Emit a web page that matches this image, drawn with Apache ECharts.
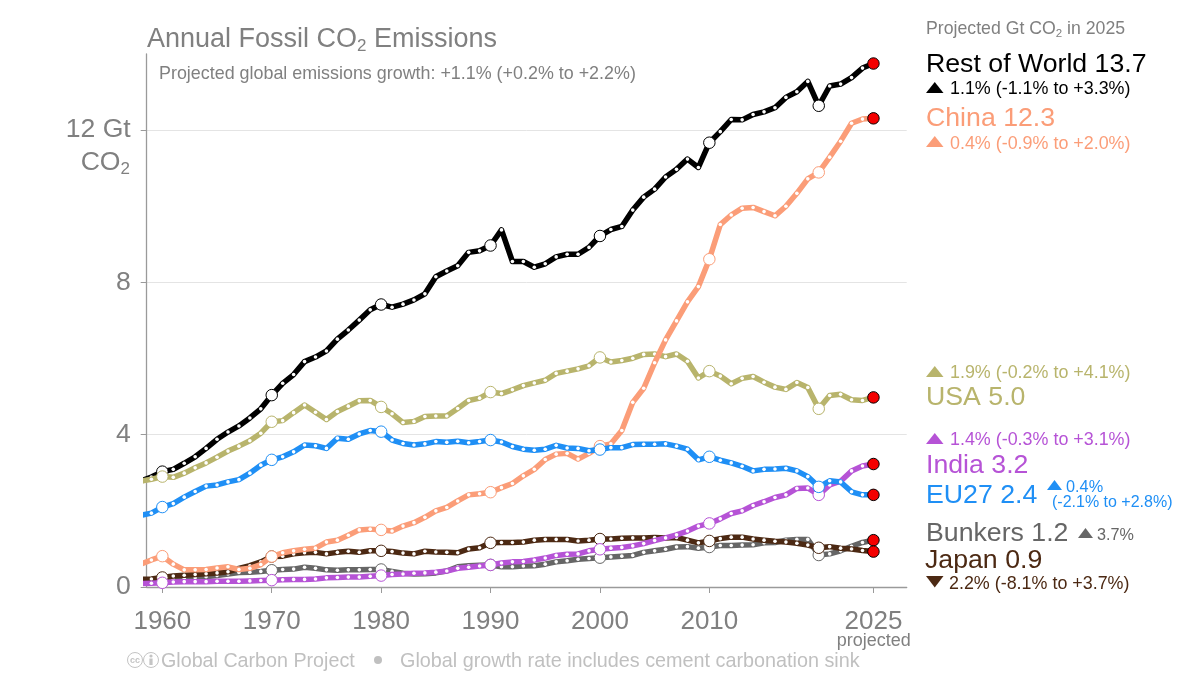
<!DOCTYPE html>
<html><head><meta charset="utf-8">
<script src="https://cdn.jsdelivr.net/npm/echarts@6/dist/echarts.min.js"></script>
<style>html,body{margin:0;padding:0;background:#fff}#c{width:1200px;height:675px}</style>
</head><body><div id="c"></div>
<script>
const firstYear = 1958;
const xTickYears = [1960,1970,1980,1990,2000,2010,2025];
const yTickValues = [0,4,8,12];
const decadeYears = [1960,1970,1980,1990,2000,2010,2020];
const restOfWorld = [2.78,2.89,
 3.03,3.09,3.25,3.42,3.64,3.88,4.07,4.23,4.44,4.68,
 5.04,5.35,5.58,5.92,6.04,6.20,6.51,6.75,7.01,7.28,
 7.42,7.35,7.43,7.54,7.70,8.15,8.30,8.44,8.79,8.83,
 8.97,9.38,8.55,8.55,8.40,8.49,8.67,8.74,8.74,8.92,
 9.22,9.39,9.47,9.90,10.24,10.45,10.77,10.97,11.24,11.02,
 11.67,11.96,12.28,12.27,12.41,12.48,12.59,12.86,13.01,13.28,
 12.64,13.16,13.21,13.38,13.63,13.75];
const china = [0.60,0.71,
 0.81,0.60,0.45,0.45,0.46,0.50,0.53,0.46,0.49,0.59,
 0.80,0.90,0.95,0.99,1.02,1.18,1.23,1.36,1.50,1.52,
 1.50,1.47,1.60,1.69,1.83,2.00,2.09,2.26,2.42,2.45,
 2.49,2.61,2.72,2.92,3.09,3.35,3.49,3.51,3.36,3.51,
 3.70,3.76,4.11,4.85,5.22,5.89,6.49,6.99,7.49,7.89,
 8.61,9.52,9.77,9.95,9.97,9.86,9.75,10.00,10.34,10.72,
 10.89,11.29,11.71,12.18,12.29,12.31];
const usa = [2.78,2.83,
 2.90,2.88,2.99,3.13,3.26,3.41,3.57,3.70,3.84,4.04,
 4.34,4.37,4.58,4.78,4.59,4.40,4.61,4.75,4.89,4.90,
 4.73,4.55,4.32,4.35,4.48,4.49,4.49,4.69,4.90,4.96,
 5.12,5.08,5.18,5.29,5.36,5.43,5.61,5.67,5.73,5.81,
 6.03,5.91,5.95,6.01,6.11,6.12,6.05,6.12,5.93,5.49,
 5.67,5.54,5.34,5.48,5.53,5.38,5.25,5.19,5.37,5.24,
 4.68,5.03,5.06,4.92,4.90,4.98];
const eu27 = [1.88,1.94,
 2.10,2.19,2.36,2.51,2.65,2.68,2.76,2.82,2.99,3.20,
 3.34,3.42,3.55,3.73,3.71,3.64,3.91,3.88,4.02,4.11,
 4.08,3.86,3.77,3.73,3.76,3.82,3.80,3.83,3.79,3.82,
 3.86,3.81,3.69,3.62,3.59,3.62,3.72,3.65,3.64,3.58,
 3.61,3.66,3.66,3.74,3.75,3.75,3.76,3.70,3.62,3.34,
 3.42,3.33,3.26,3.17,3.05,3.09,3.10,3.12,3.05,2.90,
 2.63,2.79,2.76,2.50,2.42,2.42];
const india = [0.09,0.10,
 0.11,0.13,0.14,0.14,0.14,0.15,0.15,0.15,0.16,0.17,
 0.18,0.19,0.20,0.20,0.21,0.24,0.25,0.26,0.26,0.28,
 0.30,0.33,0.34,0.36,0.37,0.39,0.42,0.49,0.52,0.55,
 0.58,0.63,0.66,0.67,0.71,0.76,0.83,0.86,0.87,0.95,
 0.99,1.02,1.04,1.08,1.14,1.22,1.29,1.37,1.47,1.60,
 1.67,1.79,1.93,2.00,2.14,2.24,2.35,2.42,2.59,2.60,
 2.42,2.68,2.78,3.05,3.18,3.23];
const japan = [0.20,0.21,
 0.25,0.29,0.31,0.33,0.35,0.37,0.40,0.49,0.56,0.66,
 0.80,0.81,0.87,0.90,0.91,0.87,0.91,0.94,0.91,0.95,
 0.95,0.93,0.89,0.87,0.94,0.92,0.91,0.90,1.00,1.03,
 1.16,1.17,1.17,1.18,1.23,1.25,1.25,1.25,1.21,1.23,
 1.26,1.26,1.28,1.29,1.29,1.30,1.29,1.30,1.23,1.16,
 1.21,1.27,1.31,1.31,1.26,1.23,1.20,1.18,1.15,1.10,
 1.03,1.06,1.02,1.00,0.96,0.93];
const bunkers = [0.17,0.18,
 0.19,0.20,0.22,0.24,0.27,0.30,0.34,0.38,0.39,0.41,
 0.44,0.46,0.47,0.52,0.49,0.45,0.44,0.45,0.45,0.46,
 0.46,0.41,0.36,0.34,0.35,0.37,0.42,0.53,0.56,0.57,
 0.58,0.53,0.53,0.55,0.56,0.60,0.66,0.69,0.73,0.75,
 0.77,0.79,0.81,0.83,0.91,0.95,0.99,1.05,1.06,1.02,
 1.05,1.09,1.09,1.10,1.11,1.16,1.17,1.23,1.25,1.25,
 0.84,0.87,0.95,1.07,1.17,1.23];

const GREY='#808080', BLACK='#000000', ORANGE='#fb9d78', OLIVE='#b8b46c', PURPLE='#b653d6', BLUE='#1f8ff5', DGREY='#666666', BROWN='#4c2913', RED='#f40000';
const FONT='"Liberation Sans", Helvetica, Arial, sans-serif';

const seriesDefs = [
 ['Rest of World', restOfWorld, BLACK],
 ['Bunkers', bunkers, DGREY],
 ['Japan', japan, BROWN],
 ['India', india, PURPLE],
 ['USA', usa, OLIVE],
 ['China', china, ORANGE],
 ['EU27', eu27, BLUE]
];

function buildPoints(vals, col){
  return vals.map((v,i)=>{
    const yr = firstYear+i;
    if(yr===firstYear) return {value:[yr,v], symbol:'none'};
    if(yr===2025) return {value:[yr,v], symbol:'circle', symbolSize:11.5, itemStyle:{color:RED,borderColor:'#000',borderWidth:1}};
    if(decadeYears.includes(yr)) return {value:[yr,v], symbol:'circle', symbolSize:11.5, itemStyle:{color:'#fff',borderColor:col,borderWidth:1}};
    return {value:[yr,v], symbol:'circle', symbolSize:3.6, itemStyle:{color:'#fff',borderWidth:0}};
  });
}

function T(x,y,text,fontSize,fill,extra){
  return {type:'text',silent:true,z:50,x:x,y:y+1.3,style:Object.assign({text:text,fontSize:fontSize,fontFamily:FONT,fill:fill,verticalAlign:'middle',align:'left'},extra||{})};
}
function tri(x,y,w,h,fill,down){
  const pts = down ? [[x,y],[x+w,y],[x+w/2,y+h]] : [[x,y+h],[x+w,y+h],[x+w/2,y]];
  return {type:'polygon',silent:true,z:50,shape:{points:pts},style:{fill:fill}};
}
function sub(a,s,b,size,subSize,fill){
  const r={a:{fontSize:size,fontFamily:FONT,fill:fill},s:{fontSize:subSize,fontFamily:FONT,fill:fill,padding:[size*0.5,0,0,0]}};
  return {text:'{a|'+a+'}{s|'+s+'}{a|'+b+'}',rich:r};
}

const graphicEls = [
 {type:'text',silent:true,z:50,x:147,y:40,style:Object.assign(sub('Annual Fossil CO','2',' Emissions',27,17,GREY),{verticalAlign:'middle'})},
 T(159,73,'Projected global emissions growth: +1.1% (+0.2% to +2.2%)',17.9,GREY),
 {type:'text',silent:true,z:50,x:130,y:163,style:Object.assign(sub('CO','2','',26.6,17,GREY),{verticalAlign:'middle',align:'right'})},
 {type:'text',silent:true,z:50,x:926,y:29,style:Object.assign(sub('Projected Gt CO','2',' in 2025',17.7,11.5,GREY),{verticalAlign:'middle'})},
 T(926,63,'Rest of World 13.7',26.7,BLACK),
 tri(926,82,17.5,11,BLACK), T(950,88,'1.1% (-1.1% to +3.3%)',17.9,BLACK),
 T(926,117,'China 12.3',26.7,ORANGE),
 tri(926,136,17.5,11,ORANGE), T(950,143,'0.4% (-0.9% to +2.0%)',17.9,ORANGE),
 tri(926,366,17.5,11,OLIVE), T(950,372,'1.9% (-0.2% to +4.1%)',17.9,OLIVE),
 T(926,396,'USA 5.0',26.7,OLIVE),
 tri(926,433,17.5,11,PURPLE), T(950,439,'1.4% (-0.3% to +3.1%)',17.9,PURPLE),
 T(926,464,'India 3.2',26.7,PURPLE),
 T(926,494,'EU27 2.4',26.7,BLUE),
 tri(1047,480,15,10,BLUE), T(1066,486,'0.4%',16.3,BLUE), T(1052,501,'(-2.1% to +2.8%)',16,BLUE),
 T(926,532,'Bunkers 1.2',26.7,DGREY),
 tri(1078,528,15,10,DGREY), T(1097,534,'3.7%',16.2,DGREY),
 T(925,559,'Japan 0.9',26.7,BROWN),
 tri(926,576,17.5,11.5,BROWN,true), T(949,583,'2.2% (-8.1% to +3.7%)',17.9,BROWN),
 T(873.7,640,'projected',18,GREY,{align:'center'}),
 {type:'circle',silent:true,z:50,shape:{cx:135,cy:660,r:7.5},style:{fill:'none',stroke:'#c4c4c4',lineWidth:1}},
 T(135,659,'cc',9,'#c4c4c4',{align:'center',fontWeight:'bold'}),
 {type:'circle',silent:true,z:50,shape:{cx:151,cy:660,r:7.5},style:{fill:'none',stroke:'#c4c4c4',lineWidth:1}},
 {type:'circle',silent:true,z:50,shape:{cx:151,cy:656,r:1.6},style:{fill:'#c4c4c4'}},
 {type:'rect',silent:true,z:50,shape:{x:149.4,y:658.5,width:3.2,height:6.5},style:{fill:'#c4c4c4'}},
 T(161,660,'Global Carbon Project',19.7,'#c0c0c0'),
 {type:'circle',silent:true,z:50,shape:{cx:378,cy:660,r:4},style:{fill:'#c0c0c0'}},
 T(400,660,'Global growth rate includes cement carbonation sink',19.8,'#c0c0c0')
];

const option = {
  animation:false,
  backgroundColor:'#ffffff',
  textStyle:{fontFamily:FONT},
  grid:{left:146.7,right:293.3,top:54,bottom:88},
  xAxis:{type:'value',min:1958.57,max:2028.04,
    axisLine:{onZero:false,lineStyle:{color:'#9a9a9a',width:1.3}},
    axisTick:{show:true,length:6,customValues:xTickYears,lineStyle:{color:'#9a9a9a',width:1}},
    splitLine:{show:false},
    axisLabel:{color:GREY,fontSize:26,margin:22,fontFamily:FONT,customValues:xTickYears,formatter:v=>String(v),hideOverlap:false,showMinLabel:true,showMaxLabel:true}},
  yAxis:{type:'value',min:0,max:14,
    axisLine:{show:true,lineStyle:{color:'#9a9a9a',width:1.3}},
    axisTick:{show:true,length:6,customValues:yTickValues,lineStyle:{color:'#9a9a9a',width:1}},
    splitLine:{show:true,lineStyle:{color:'#e4e4e4',width:1}},
    axisLabel:{color:GREY,fontSize:26.6,margin:16,padding:[4,0,0,0],fontFamily:FONT,customValues:yTickValues,formatter:v=>v===12?'12 Gt':String(v)}},
  graphic:{elements:graphicEls},
  series:seriesDefs.map((d,i)=>({
    name:d[0],type:'line',z:3+i,clip:true,silent:true,
    showSymbol:true,showAllSymbol:true,
    lineStyle:{color:d[2],width:5.5,cap:'round',join:'round'},
    itemStyle:{color:d[2]},
    data:buildPoints(d[1],d[2])
  }))
};
const chart = echarts.init(document.getElementById('c'),null,{renderer:'canvas'});
chart.setOption(option);
</script></body></html>
